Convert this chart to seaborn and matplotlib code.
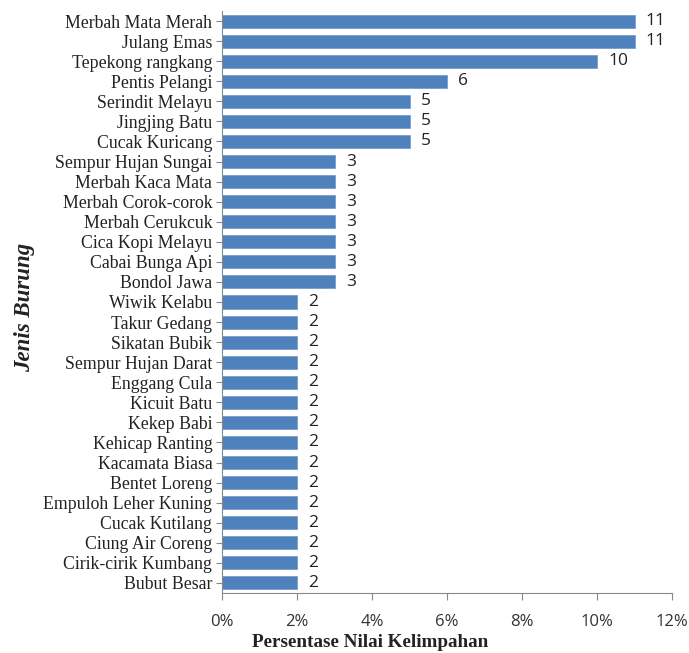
import matplotlib
matplotlib.use("Agg")
import matplotlib.pyplot as plt
import seaborn as sns
import pandas as pd
from matplotlib.ticker import FuncFormatter, MultipleLocator

species = [
    "Merbah Mata Merah", "Julang Emas", "Tepekong rangkang", "Pentis Pelangi",
    "Serindit Melayu", "Jingjing Batu", "Cucak Kuricang", "Sempur Hujan Sungai",
    "Merbah Kaca Mata", "Merbah Corok-corok", "Merbah Cerukcuk", "Cica Kopi Melayu",
    "Cabai Bunga Api", "Bondol Jawa", "Wiwik Kelabu", "Takur Gedang",
    "Sikatan Bubik", "Sempur Hujan Darat", "Enggang Cula", "Kicuit Batu",
    "Kekep Babi", "Kehicap Ranting", "Kacamata Biasa", "Bentet Loreng",
    "Empuloh Leher Kuning", "Cucak Kutilang", "Ciung Air Coreng",
    "Cirik-cirik Kumbang", "Bubut Besar",
]
percent = [11, 11, 10, 6, 5, 5, 5, 3, 3, 3, 3, 3, 3, 3,
           2, 2, 2, 2, 2, 2, 2, 2, 2, 2, 2, 2, 2, 2, 2]

df = pd.DataFrame({"species": species, "percent": percent})

sns.set_theme(style="white")
plt.rcParams["font.family"] = ["Liberation Serif", "DejaVu Serif"]

fig = plt.figure(figsize=(6.89, 6.53), dpi=100)
ax = fig.add_axes([222/689, 1-593/653, 450/689, 582/653])

sns.barplot(data=df, x="percent", y="species", orient="h", color="#4F81BD",
            saturation=1, width=0.65, edgecolor="#6F97C8", linewidth=0.5, ax=ax)

for i, v in enumerate(percent):
    ax.text(v + 0.3, i, f"{v}", va="center", ha="left", fontsize=12.5,
            family="Open Sans", color="#222222")

ax.set_xlim(0, 12)
ax.set_ylim(len(species) - 0.5, -0.5)
ax.xaxis.set_major_locator(MultipleLocator(2))
ax.xaxis.set_major_formatter(FuncFormatter(lambda x, p: f"{int(x)}%"))

for s in ["top", "right"]:
    ax.spines[s].set_visible(False)
for s in ["left", "bottom"]:
    ax.spines[s].set_color("#888888")
    ax.spines[s].set_linewidth(0.8)

ax.tick_params(axis="y", left=True, length=4, width=0.8, color="#888888",
               labelsize=12.8, pad=3)
ax.tick_params(axis="x", bottom=True, length=5, width=0.8, color="#888888",
               labelsize=12, pad=10)
for lbl in ax.get_xticklabels():
    lbl.set_family("Open Sans")
    lbl.set_color("#333333")
for lbl in ax.get_yticklabels():
    lbl.set_color("#222222")

ax.set_xlabel("Persentase Nilai Kelimpahan", fontsize=13.8, fontweight="bold",
              color="#222222")
ax.set_ylabel("Jenis Burung", fontsize=16.5, fontweight="bold", style="italic",
              color="#222222")
ax.xaxis.set_label_coords(0.329, -0.07)
ax.yaxis.set_label_coords(-0.415, 0.49)

fig.savefig("out.png", dpi=100)
